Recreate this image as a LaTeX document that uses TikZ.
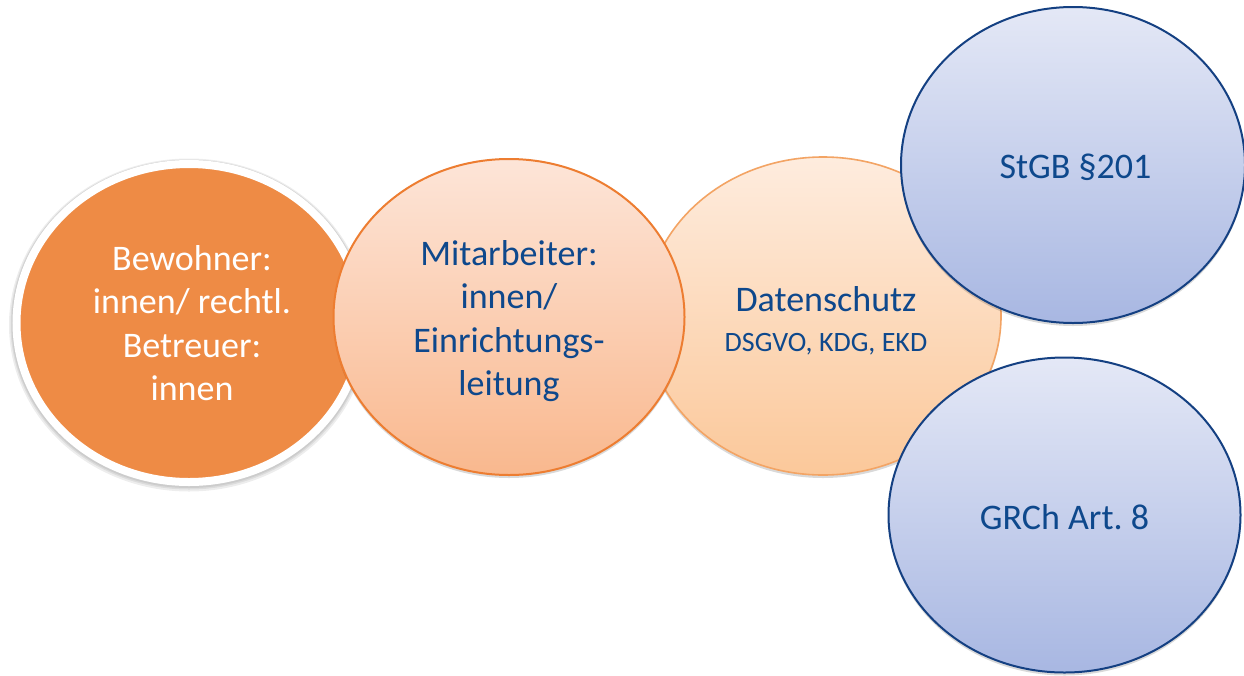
\documentclass[tikz,border=0pt]{standalone}
\usepackage{fontspec}
\setmainfont{Carlito}
\frenchspacing
\usetikzlibrary{shapes.geometric,shadows}
\definecolor{orangefill}{RGB}{238,139,69}
\definecolor{peachtop}{RGB}{253,229,216}
\definecolor{peachbot}{RGB}{249,184,142}
\definecolor{peachline}{RGB}{237,125,49}
\definecolor{lighttop}{RGB}{254,236,222}
\definecolor{lightbot}{RGB}{251,200,154}
\definecolor{lightline}{RGB}{243,164,100}
\definecolor{bluetop}{RGB}{228,232,246}
\definecolor{bluebot}{RGB}{168,183,226}
\definecolor{blueline}{RGB}{20,64,130}
\definecolor{bluetext}{RGB}{14,72,140}
\begin{document}
\begin{tikzpicture}[x=1pt,y=-1pt,
  bub/.style={ellipse, inner sep=0pt},
  txt/.style={align=center, inner sep=0pt, font=\fontsize{36}{43.5}\selectfont},
  softshadow/.style={drop shadow={shadow xshift=0pt, shadow yshift=-3pt, opacity=0.15, fill=black}},
  peach/.style={bub, draw=peachline, line width=2pt, top color=peachtop, bottom color=peachbot, softshadow},
  light/.style={bub, draw=lightline, line width=1.6pt, top color=lighttop, bottom color=lightbot, softshadow},
  blue/.style={bub, draw=blueline, line width=2pt, top color=bluetop, bottom color=bluebot, softshadow},
  halo/.style={fill=black, opacity=0.07}
]
\useasboundingbox (0,0) rectangle (1244,675);
\fill[white] (0,0) rectangle (1244,675);

% soft halo behind the white ring
\fill[halo] (189,325) ellipse [x radius=180, y radius=166.5];
\fill[halo] (189,324.5) ellipse [x radius=178.5, y radius=165];
\fill[halo] (189,324) ellipse [x radius=177.5, y radius=164];

\node[bub, minimum width=345pt, minimum height=318pt, fill=orangefill, draw=white, line width=8pt]
  (bew) at (189,323) {};
\node[txt, text=white] (bewtext) at ([xshift=3pt]bew.center) {Bewohner:\\innen/ rechtl.\\Betreuer:\\innen};

\node[light, minimum width=356pt, minimum height=318pt] (ds) at (823,316) {};
\node[txt, text=bluetext] (dstext) at ([xshift=3pt,yshift=-5pt]ds.center)
  {Datenschutz\\[-3pt]{\fontsize{28}{36}\selectfont DSGVO, KDG, EKD}};

\node[peach, minimum width=351pt, minimum height=316pt] (mit) at (509,317) {};
\node[txt, text=bluetext] (mittext) at ([yshift=-4pt]mit.center)
  {Mitarbeiter:\\innen/\\Einrichtungs-\\leitung};

\node[blue, minimum width=344pt, minimum height=316pt] (stgb) at (1073,165) {};
\node[txt, text=bluetext] (stgbtext) at ([xshift=2.5pt,yshift=-2pt]stgb.center) {StGB §201};

\node[blue, minimum width=352pt, minimum height=315pt] (grch) at (1064.5,515) {};
\node[txt, text=bluetext] (grchtext) at ([yshift=-2pt]grch.center) {GRCh Art. 8};
\end{tikzpicture}
\end{document}
